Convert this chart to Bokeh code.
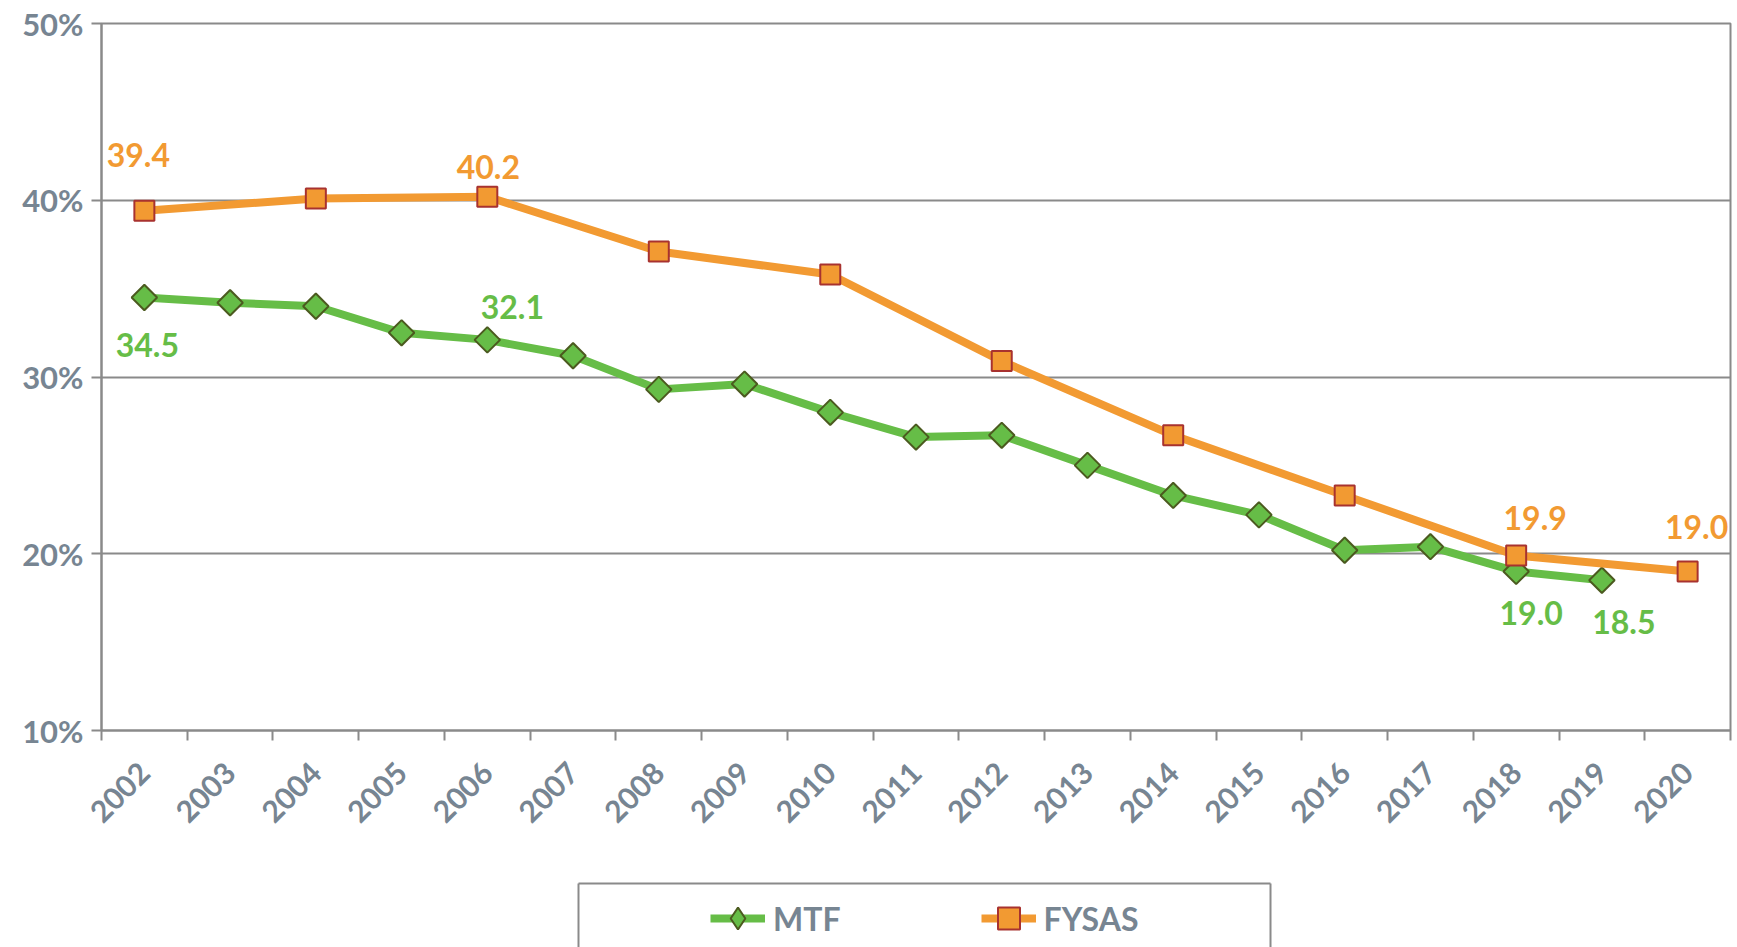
import math
from bokeh.plotting import figure
from bokeh.layouts import column, row
from bokeh.models import (Range1d, FixedTicker, PrintfTickFormatter, Legend, LegendItem,
                          Label, LinearAxis, Spacer)
from bokeh.embed import file_html
from bokeh.resources import INLINE

# ---------------- data ----------------
years = list(range(2002, 2021))
mtf_years = list(range(2002, 2020))
mtf_values = [34.5, 34.2, 34.0, 32.5, 32.1, 31.2, 29.3, 29.6, 28.0, 26.6,
              26.7, 25.0, 23.3, 22.2, 20.2, 20.4, 19.0, 18.5]
fysas_years = [2002, 2004, 2006, 2008, 2010, 2012, 2014, 2016, 2018, 2020]
fysas_values = [39.4, 40.1, 40.2, 37.1, 35.8, 30.9, 26.7, 23.3, 19.9, 19.0]
y_ticks = [10, 20, 30, 40, 50]
mtf_labelled = [2002, 2006, 2018, 2019]
fysas_labelled = [2002, 2006, 2018, 2020]

# ---------------- style ----------------
FONT = "Lato"
GREY_TXT = "#778592"
AXIS_GREY = "#8a8a8a"
GREEN = "#66bd47"
GREEN_EDGE = "#4b5a1f"
ORANGE = "#f29a32"
ORANGE_EDGE = "#a8322f"

# label offsets in screen px (dx, dy up)
mtf_off = {2002: (3, -48), 2006: (25, 33), 2018: (15, -42), 2019: (22, -42)}
fysas_off = {2002: (-6, 56), 2006: (1, 30), 2018: (19, 38), 2020: (9, 44)}

p = figure(width=1737, height=881, output_backend="svg", toolbar_location=None,
           x_range=Range1d(2001.5, 2020.5), y_range=Range1d(10, 50),
           min_border_left=101, min_border_top=23, min_border_right=7,
           min_border_bottom=151)

p.outline_line_color = AXIS_GREY
p.outline_line_width = 2
p.background_fill_color = "white"
p.border_fill_color = "white"

# grid
p.xgrid.grid_line_color = None
p.ygrid.ticker = FixedTicker(ticks=y_ticks)
p.ygrid.grid_line_color = AXIS_GREY
p.ygrid.grid_line_width = 2

# y axis
ya = p.yaxis[0]
ya.ticker = FixedTicker(ticks=y_ticks)
ya.formatter = PrintfTickFormatter(format="%d%%")
ya.axis_line_color = AXIS_GREY
ya.axis_line_width = 2
ya.major_tick_line_color = AXIS_GREY
ya.major_tick_line_width = 2
ya.major_tick_out = 10
ya.major_tick_in = 0
ya.minor_tick_line_color = None
ya.major_label_standoff = 8
ya.major_label_text_font = FONT
ya.major_label_text_font_style = "bold"
ya.major_label_text_font_size = "31px"
ya.major_label_text_color = GREY_TXT

# x axis
xa = p.xaxis[0]
xa.ticker = FixedTicker(ticks=years, minor_ticks=[y - 0.5 for y in years] + [years[-1] + 0.5])
xa.formatter = PrintfTickFormatter(format="%d")
xa.axis_line_color = AXIS_GREY
xa.axis_line_width = 2
xa.major_tick_line_color = None
xa.major_tick_out = 0
xa.major_tick_in = 0
xa.minor_tick_line_color = AXIS_GREY
xa.minor_tick_line_width = 2
xa.minor_tick_out = 10
xa.minor_tick_in = 0
xa.major_label_orientation = math.pi / 4
xa.major_label_standoff = 27
xa.major_label_text_font = FONT
xa.major_label_text_font_style = "bold"
xa.major_label_text_font_size = "30px"
xa.major_label_text_color = GREY_TXT

# series
mtf_line = p.line(mtf_years, mtf_values, line_color=GREEN, line_width=8)
mtf_pts = p.scatter(mtf_years, mtf_values, marker="square", angle=math.pi / 4, size=18,
                    fill_color=GREEN, line_color=GREEN_EDGE, line_width=2)
fy_line = p.line(fysas_years, fysas_values, line_color=ORANGE, line_width=8)
fy_pts = p.scatter(fysas_years, fysas_values, marker="square", size=20,
                   fill_color=ORANGE, line_color=ORANGE_EDGE, line_width=2)

# data labels
for yr in mtf_labelled:
    v = mtf_values[mtf_years.index(yr)]
    dx, dy = mtf_off[yr]
    p.add_layout(Label(x=yr, y=v, x_offset=dx, y_offset=dy, text=f"{v:.1f}",
                       text_align="center", text_baseline="middle",
                       text_font=FONT, text_font_style="bold", text_font_size="32px",
                       text_color=GREEN))
for yr in fysas_labelled:
    v = fysas_values[fysas_years.index(yr)]
    dx, dy = fysas_off[yr]
    p.add_layout(Label(x=yr, y=v, x_offset=dx, y_offset=dy, text=f"{v:.1f}",
                       text_align="center", text_baseline="middle",
                       text_font=FONT, text_font_style="bold", text_font_size="32px",
                       text_color=ORANGE))

# ---------------- legend panel (box open at the bottom) ----------------
# the series are re-drawn here only to feed the legend; the view range keeps them out of sight
lg = figure(width=696, height=66, output_backend="svg", toolbar_location=None,
            x_range=Range1d(0, 1), y_range=Range1d(0, 1),
            x_axis_location=None, y_axis_location=None,
            min_border_left=2, min_border_right=2, min_border_top=2, min_border_bottom=0)
lg.outline_line_color = None
lg.grid.visible = False
for loc in ["left", "right", "above"]:
    ax = LinearAxis(ticker=FixedTicker(ticks=[]), axis_line_color=AXIS_GREY,
                    axis_line_width=2, major_tick_line_color=None,
                    minor_tick_line_color=None, major_label_text_font_size="0px",
                    major_label_standoff=0, major_tick_out=0, major_tick_in=0)
    lg.add_layout(ax, loc)

l_mtf_line = lg.line(mtf_years, mtf_values, line_color=GREEN, line_width=8)
l_mtf_pts = lg.scatter(mtf_years, mtf_values, marker="diamond", size=30,
                       fill_color=GREEN, line_color=GREEN_EDGE, line_width=2)
l_fy_line = lg.line(fysas_years, fysas_values, line_color=ORANGE, line_width=8)
l_fy_pts = lg.scatter(fysas_years, fysas_values, marker="square", size=20,
                      fill_color=ORANGE, line_color=ORANGE_EDGE, line_width=2)

legend = Legend(items=[LegendItem(label="MTF", renderers=[l_mtf_line, l_mtf_pts]),
                       LegendItem(label="FYSAS", renderers=[l_fy_line, l_fy_pts])],
                orientation="horizontal", location=(132, -1),
                glyph_width=55, glyph_height=60, label_height=60, label_standoff=8,
                spacing=140, padding=0, margin=0, border_line_alpha=0,
                background_fill_alpha=0,
                label_text_font=FONT, label_text_font_style="bold",
                label_text_font_size="32px", label_text_color=GREY_TXT)
lg.add_layout(legend, "center")

layout = column(p, row(Spacer(width=576, height=66), lg, spacing=0), spacing=0)

open("out.html", "w").write(file_html(layout, INLINE))
